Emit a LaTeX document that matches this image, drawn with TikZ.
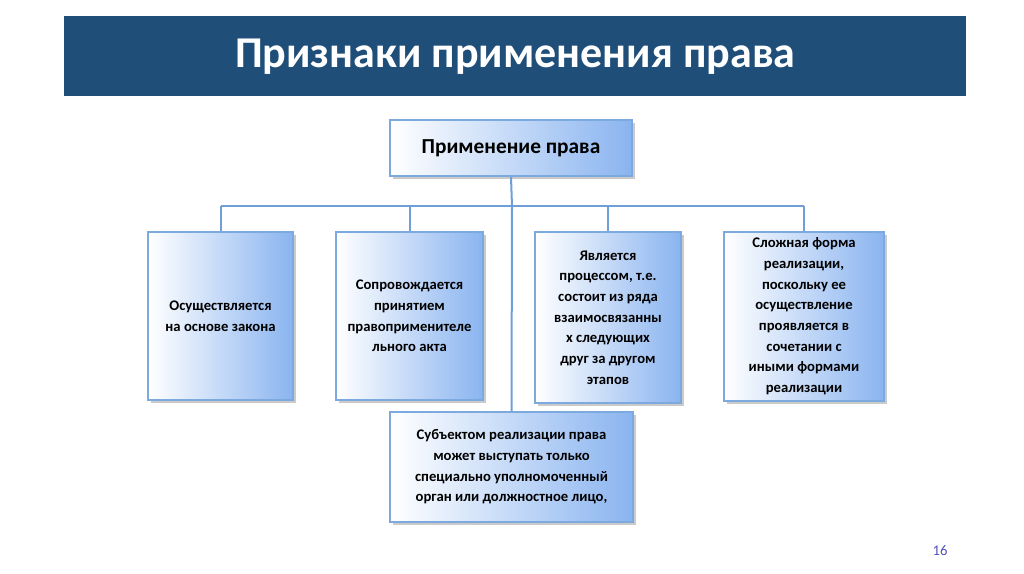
\documentclass[tikz,border=0pt]{standalone}
\usepackage{fontspec}
\setmainfont{Carlito}
\usetikzlibrary{shadows}
\definecolor{banner}{RGB}{31,78,121}
\definecolor{bord}{RGB}{125,170,222}
\definecolor{fillr}{RGB}{138,180,240}
\definecolor{ln}{RGB}{110,160,215}
\definecolor{pnum}{RGB}{80,80,190}
\tikzset{
 box/.style={draw=bord,line width=1.4pt,left color=white,right color=fillr,
   drop shadow={shadow xshift=2pt,shadow yshift=-2pt,fill=black!35,opacity=.6},
   align=center,font=\bfseries\fontsize{11}{15.5}\selectfont,inner sep=2pt},
 conn/.style={draw=ln,line width=1.5pt}
}
\begin{document}
\begin{tikzpicture}[x=0.75pt,y=-0.75pt]
\useasboundingbox (0,0) rectangle (1024,574);
\node[fill=banner,minimum width=902*0.75pt,minimum height=80*0.75pt,anchor=north west,inner sep=0,text=white,font=\bfseries\fontsize{33}{38}\selectfont] (title) at (64,16) {Признаки применения права};
\node[box,minimum width=242*0.75pt,minimum height=56*0.75pt,font=\bfseries\fontsize{16}{20}\selectfont] (top) at (511,148) {Применение права};
\node[box,minimum width=145*0.75pt,minimum height=168*0.75pt] (b1) at (220.5,316) {Осуществляется\\на основе закона};
\node[box,minimum width=147*0.75pt,minimum height=168*0.75pt] (b2) at (409.5,316) {Сопровождается\\принятием\\правоприменителе\\льного акта};
\node[box,minimum width=146*0.75pt,minimum height=171*0.75pt] (b3) at (608,317.5) {Является\\процессом, т.е.\\состоит из ряда\\взаимосвязанны\\х следующих\\друг за другом\\этапов};
\node[box,minimum width=160*0.75pt,minimum height=169*0.75pt] (b4) at (804,316.5) {Сложная форма\\реализации,\\поскольку ее\\осуществление\\проявляется в\\сочетании с\\иными формами\\реализации};
\node[box,minimum width=243*0.75pt,minimum height=110*0.75pt] (b5) at (511.5,467) {Субъектом реализации права\\может выступать только\\специально уполномоченный\\орган или должностное лицо,};
\coordinate (hub) at (512,206);
\begin{scope}[on background layer/.code={}]
\end{scope}
\draw[conn] (top.south) -- (hub);
\draw[conn] (b1.north |- hub) -- (b4.north |- hub);
\draw[conn] (b1.north |- hub) -- (b1.north);
\draw[conn] (b2.north |- hub) -- (b2.north);
\draw[conn] (b3.north |- hub) -- (b3.north);
\draw[conn] (b4.north |- hub) -- (b4.north);
\draw[conn] (hub) -- (b5.north);
\node[text=pnum,font=\fontsize{11}{13}\selectfont] (pg) at (940,551) {16};
\end{tikzpicture}
\end{document}
